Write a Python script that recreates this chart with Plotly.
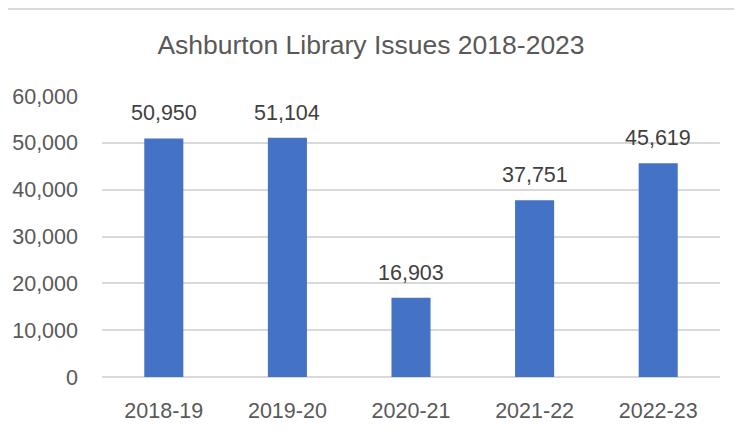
import plotly.graph_objects as go

categories = ["2018-19", "2019-20", "2020-21", "2021-22", "2022-23"]
issues = [50950, 51104, 16903, 37751, 45619]
tick_vals = [0, 10000, 20000, 30000, 40000, 50000, 60000]
tick_text = ["0", "10,000", "20,000", "30,000", "40,000", "50,000", "60,000"]

FONT = "Liberation Sans"

# page has an 8px body margin, so figure is offset; compensate in sizes
W, H = 726, 419
L, R, T, B = 94, 14, 88, 50
PH = H - T - B
PW = W - L - R

fig = go.Figure(go.Bar(x=categories, y=issues, marker_color="#4472C4",
                       marker_line_width=0, width=0.316))

for c, v in zip(categories, issues):
    fig.add_annotation(x=c, y=v, text=f"{v:,}", showarrow=False, yanchor="bottom",
                       yshift=11, font=dict(family=FONT, size=21.5, color="#404040"))

yline = (H - B - 1) / PH
fig.add_shape(type="line", xref="paper", yref="paper", x0=-L / PW, x1=(W - L) / PW,
              y0=yline, y1=yline, line=dict(color="#D9D9D9", width=2))

fig.update_layout(
    width=W, height=H,
    margin=dict(l=L, r=R, t=T, b=B, autoexpand=False),
    paper_bgcolor="white", plot_bgcolor="white",
    showlegend=False,
    title=dict(text="Ashburton Library Issues 2018-2023", x=363 / W, xref="container",
               xanchor="center", y=1 - 37 / H, yanchor="middle", yref="container",
               font=dict(family=FONT, size=26.5, color="#595959")),
    xaxis=dict(showgrid=False, showline=False, ticks="", ticklabelstandoff=18,
               automargin=False,
               tickfont=dict(family=FONT, size=21.5, color="#595959")),
    yaxis=dict(range=[0, 60000], tickvals=tick_vals, ticktext=tick_text,
               showgrid=True, gridcolor="#D9D9D9", gridwidth=1.5, zeroline=True,
               zerolinecolor="#D9D9D9", zerolinewidth=1.5, showline=False, ticks="",
               ticklabelstandoff=23, automargin=False,
               tickfont=dict(family=FONT, size=21.5, color="#595959")),
)

fig.write_html("out.html")
